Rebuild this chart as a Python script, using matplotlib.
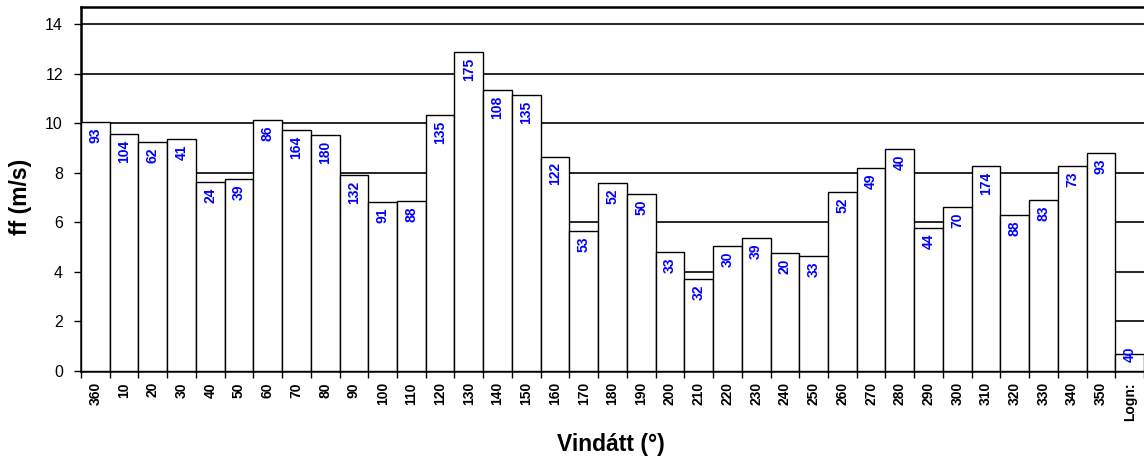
import matplotlib.pyplot as plt
import numpy as np

plt.rcParams['font.family'] = ['Liberation Sans', 'DejaVu Sans']

# wind direction classes, mean wind speed and number of observations
directions = ['360', '10', '20', '30', '40', '50', '60', '70', '80', '90',
              '100', '110', '120', '130', '140', '150', '160', '170', '180', '190',
              '200', '210', '220', '230', '240', '250', '260', '270', '280', '290',
              '300', '310', '320', '330', '340', '350', 'Logn:']
speeds = [10.05, 9.58, 9.25, 9.37, 7.64, 7.76, 10.14, 9.74, 9.54, 7.92,
          6.83, 6.87, 10.34, 12.89, 11.35, 11.15, 8.65, 5.66, 7.60, 7.15,
          4.81, 3.72, 5.05, 5.37, 4.77, 4.65, 7.23, 8.20, 8.97, 5.78,
          6.63, 8.28, 6.30, 6.91, 8.28, 8.81, 0.69]
counts = [93, 104, 62, 41, 24, 39, 86, 164, 180, 132,
          91, 88, 135, 175, 108, 135, 122, 53, 52, 50,
          33, 32, 30, 39, 20, 33, 52, 49, 40, 44,
          70, 174, 88, 83, 73, 93, 40]

fig = plt.figure(figsize=(11.44, 4.61), dpi=100)
ax = fig.add_axes([0.0708, 0.1952, 0.9292, 0.7896])

x = np.arange(len(directions))
ax.bar(x, speeds, width=1.0, color='white', edgecolor='black', linewidth=1.0, zorder=3)

# counts as blue rotated labels inside the bar tops
for xi, v, c in zip(x, speeds, counts):
    if v < 1:
        ax.text(xi, v, str(c), rotation=90, ha='center', va='center', color='#0000ff',
                fontsize=10, fontweight='bold', zorder=4)
    else:
        ax.annotate(str(c), (xi, v), xytext=(0, -4), textcoords='offset points',
                    rotation=90, ha='center', va='top', color='#0000ff',
                    fontsize=10, fontweight='bold', zorder=4)

ax.set_xlim(-0.5, len(directions) - 0.5)
ax.set_ylim(0, 14.7)
ax.set_yticks(np.arange(0, 15, 2))
ax.yaxis.grid(True, color='black', linewidth=1.2, zorder=0)
ax.set_axisbelow(True)

ax.set_xticks(x)
ax.set_xticklabels(directions, rotation=90, fontsize=10, fontweight='bold')
ax.set_xticks(np.arange(-0.5, len(directions)), minor=True)
ax.tick_params(axis='x', which='major', length=0, pad=8)
ax.tick_params(axis='x', which='minor', length=5, width=1, direction='out')
ax.tick_params(axis='y', labelsize=11.5, length=5, width=1, pad=8)

for s in ['left', 'top', 'bottom']:
    ax.spines[s].set_linewidth(1.8)
ax.spines['right'].set_visible(False)

ax.set_ylabel('ff (m/s)', fontsize=16.5, fontweight='bold')
ax.set_xlabel('Vindátt (°)', fontsize=16.5, fontweight='bold')
ax.yaxis.set_label_coords(-0.046, 0.478)
ax.xaxis.set_label_coords(0.4986, -0.17)

fig.savefig('out.png', dpi=100)
